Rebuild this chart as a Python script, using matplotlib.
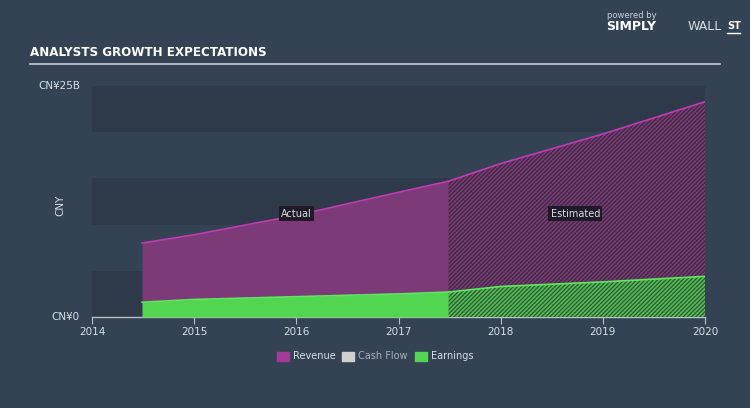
import numpy as np
import matplotlib
matplotlib.use("Agg")
import matplotlib.pyplot as plt
from matplotlib.patches import Rectangle

# data (CNY billions)
actual_x = [2014.49, 2015.0, 2016.0, 2017.0, 2017.49]
actual_rev = [8.0, 8.9, 11.0, 13.5, 14.7]
actual_earn = [1.6, 1.9, 2.2, 2.5, 2.7]
est_x = [2017.49, 2018.0, 2019.0, 2020.0]
est_rev = [14.7, 16.6, 19.8, 23.3]
est_earn = [2.7, 3.3, 3.8, 4.4]
years = [2014, 2015, 2016, 2017, 2018, 2019, 2020]
legend_names = ["Revenue", "Cash Flow", "Earnings"]

BG = "#344353"
BAND = "#2e3a4a"
REV_FILL = "#7c3a78"
REV_LINE = "#c23bb4"
EARN_FILL = "#52d652"
EARN_LINE = "#5ee85e"
TXT = "#d8dde3"

plt.rcParams["hatch.linewidth"] = 0.9

fig = plt.figure(figsize=(7.5, 4.08), dpi=100)
fig.patch.set_facecolor(BG)
ax = fig.add_axes([92 / 750, 1 - 317 / 408, (705 - 92) / 750, (317 - 86) / 408])
ax.set_facecolor(BG)
ax.set_xlim(2014, 2020)
ax.set_ylim(0, 25)

# alternating bands
for i in range(0, 5, 2):
    ax.axhspan(i * 5, i * 5 + 5, color=BAND, zorder=0, lw=0)

# actual
ax.fill_between(actual_x, actual_rev, color=REV_FILL, lw=0, zorder=2)
ax.plot(actual_x, actual_rev, color=REV_LINE, lw=1.2, zorder=3)
ax.fill_between(actual_x, actual_earn, color=EARN_FILL, lw=0, zorder=4)
ax.plot(actual_x, actual_earn, color=EARN_LINE, lw=1.2, zorder=5)

# estimated (hatched)
ax.fill_between(est_x, est_rev, facecolor="#7a3a74", edgecolor="#3a2a42",
                hatch="////////", lw=0, zorder=2)
ax.plot(est_x, est_rev, color=REV_LINE, lw=1.2, zorder=3)
ax.fill_between(est_x, est_earn, facecolor="#4fc24f", edgecolor="#32503a",
                hatch="////////", lw=0, zorder=4)
ax.plot(est_x, est_earn, color=EARN_LINE, lw=1.2, zorder=5)

box = dict(boxstyle="square,pad=0.25", fc="#1f1a26", ec="none")
ax.text(2016.0, 11.2, "Actual", color=TXT, fontsize=7, ha="center", va="center",
        bbox=box, zorder=6)
ax.text(2018.73, 11.2, "Estimated", color=TXT, fontsize=7, ha="center", va="center",
        bbox=box, zorder=6)

for s in ["top", "right", "left"]:
    ax.spines[s].set_visible(False)
ax.spines["bottom"].set_color("#b8c0c8")
ax.spines["bottom"].set_linewidth(1)
ax.set_xticks(years)
ax.set_xticklabels([str(y) for y in years])
ax.tick_params(axis="x", colors="#b8c0c8", length=5, labelcolor=TXT, labelsize=7.5, pad=2)
ax.set_yticks([])

fig.text(80 / 750, 1 - 86 / 408, "CN¥25B", color=TXT, fontsize=7.5, ha="right", va="center")
fig.text(80 / 750, 1 - 317 / 408, "CN¥0", color=TXT, fontsize=7.5, ha="right", va="center")
fig.text(60 / 750, 1 - 205 / 408, "CNY", color=TXT, fontsize=7.5, ha="center", va="center",
         rotation=90)

# title and rule
fig.text(30 / 750, 1 - 53 / 408, "ANALYSTS GROWTH EXPECTATIONS", color="white",
         fontsize=9.5, fontweight="bold", fontstretch="condensed",
         family=["DejaVu Sans"], va="center", ha="left")
fig.add_artist(plt.Line2D([30 / 750, 720 / 750], [1 - 64 / 408] * 2, color="#c8d0d8", lw=1.2))

# branding
fig.text(607 / 750, 1 - 15 / 408, "powered by", color="#c8d0d8", fontsize=6, ha="left", va="center")
fig.text(606 / 750, 1 - 27 / 408, "SIMPLY", color="white", fontsize=9, fontweight="bold",
         ha="left", va="center")
fig.text(688 / 750, 1 - 27 / 408, "WALL", color="#d8dde3", fontsize=9, ha="left", va="center")
fig.text(727 / 750, 1 - 26 / 408, "ST", color="white", fontsize=7, fontweight="bold",
         ha="left", va="center")
fig.add_artist(plt.Line2D([727 / 750, 740 / 750], [1 - 33 / 408] * 2, color="white", lw=1))

# legend
legend_colors = ["#a23a98", "#d0d0d0", EARN_FILL]
lx = [277, 342, 415]
for name, c, x in zip(legend_names, legend_colors, lx):
    fig.add_artist(Rectangle((x / 750, 1 - 361 / 408), 12 / 750, 9 / 408,
                             transform=fig.transFigure, color=c))
    fig.text((x + 16) / 750, 1 - 356 / 408, name,
             color=TXT if name != "Cash Flow" else "#a8b0b8",
             fontsize=7, ha="left", va="center")

fig.savefig("out.png", dpi=100, facecolor=BG)
